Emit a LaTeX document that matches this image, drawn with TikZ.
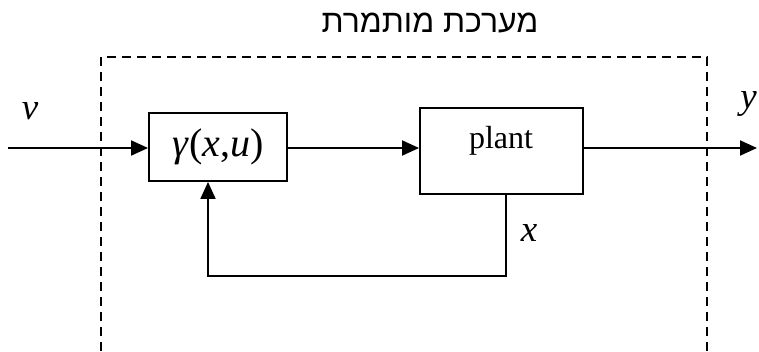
\documentclass[tikz,border=0pt]{standalone}
\usepackage{fontspec}
\setmainfont{Liberation Serif}
\newfontfamily\hebfont[Script=Hebrew]{Liberation Sans}
\TeXXeTstate=1
\usetikzlibrary{arrows.meta}
\tikzset{
  blk/.style={draw, line width=1.9pt, inner sep=0pt, minimum width=#1},
  sig/.style={line width=1.9pt, -{Triangle[length=17pt,width=15pt]}},
  frame/.style={line width=1.5pt, dash pattern=on 9pt off 6pt},
  lbl/.style={font=\fontsize{37}{42}\selectfont\itshape, inner sep=0pt},
}
\begin{document}
\begin{tikzpicture}[x=1pt,y=-1pt]
\useasboundingbox (0,0) rectangle (759,351);
% frame
\coordinate (f1) at (101,351);
\coordinate (f2) at (101,57);
\coordinate (f3) at (707,57);
\coordinate (f4) at (707,351);
\draw[frame] (f1) -- (f2) -- (f3) -- (f4);
\node[font=\fontsize{32}{36}\selectfont\hebfont, inner sep=0pt] (title) at (430,23) {\beginR מערכת מותמרת\endR};
% blocks
\node[blk=138pt, minimum height=68pt] (gamma) at (218,147) {\fontsize{40}{44}\selectfont\textit{γ}(\textit{x},\textit{u})};
\node[blk=163pt, minimum height=86pt] (plant) at (501.5,151) {};
\node[font=\fontsize{32}{36}\selectfont, inner sep=0pt] (plantlbl) at (501,141) {plant};
% signals
\coordinate (in) at (8,148);
\coordinate (out) at (757,148);
\draw[sig] (in) -- (in -| gamma.west);
\draw[sig] (gamma.east |- in) -- (in -| plant.west);
\draw[sig] (plant.east |- out) -- (out);
\draw[sig] ([xshift=4.5pt]plant.south) -- ++(0,81) -| ([xshift=-10pt]gamma.south);
% labels
\node[lbl] (v) at (30,111) {v};
\node[lbl] (xl) at (529,233) {x};
\node[lbl, anchor=east] (yl) at (757,104) {y};
\end{tikzpicture}
\end{document}
